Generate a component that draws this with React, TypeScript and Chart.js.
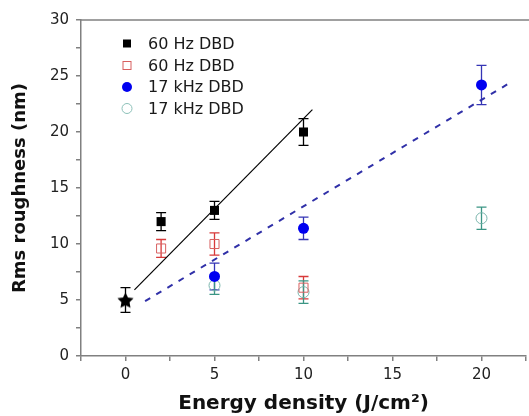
import React, { useEffect, useRef } from 'react';
import { Chart, registerables } from 'chart.js';

Chart.register(...registerables);

// ---- data ----
const hz60FilledX = [2, 5, 10];
const hz60FilledY = [12.0, 13.0, 20.0];
const hz60FilledErr = [0.8, 0.8, 1.2];

const hz60OpenX = [2, 5, 10];
const hz60OpenY = [9.6, 10.0, 6.1];
const hz60OpenErr = [0.8, 1.0, 1.0];

const khz17FilledX = [5, 10, 20];
const khz17FilledY = [7.1, 11.4, 24.2];
const khz17FilledErr = [1.2, 1.0, 1.75];

const khz17OpenX = [5, 10, 20];
const khz17OpenY = [6.3, 5.7, 12.3];
const khz17OpenErr = [0.8, 1.0, 1.0];

const untreatedX = [0];
const untreatedY = [5.0];
const untreatedErr = [1.1];

const fit60X = [0.5, 10.5];
const fit60Y = [5.9, 22.0];
const fit17X = [1.1, 21.5];
const fit17Y = [4.9, 24.3];

const legendLabels = ['60 Hz DBD', '60 Hz DBD', '17 kHz DBD', '17 kHz DBD'];
const xTickLabels = ['0', '5', '10', '15', '20'];
const yTickLabels = ['0', '5', '10', '15', '20', '25', '30'];

const FONT = '"DejaVu Sans", "Liberation Sans", Arial, sans-serif';

function zip(xs: number[], ys: number[]) {
  return xs.map((x, i) => ({ x, y: ys[i] }));
}

function makeStar(size: number, color: string) {
  const c = document.createElement('canvas');
  c.width = size;
  c.height = size;
  const ctx = c.getContext('2d')!;
  const cx = size / 2, cy = size / 2 + 0.9;
  const R = size / 2, r = R * 0.5;
  ctx.beginPath();
  for (let i = 0; i < 10; i++) {
    const ang = -Math.PI / 2 + (i * Math.PI) / 5;
    const rad = i % 2 === 0 ? R : r;
    const px = cx + rad * Math.cos(ang);
    const py = cy + rad * Math.sin(ang);
    if (i === 0) ctx.moveTo(px, py); else ctx.lineTo(px, py);
  }
  ctx.closePath();
  ctx.fillStyle = color;
  ctx.fill();
  return c;
}

const errorBarPlugin = {
  id: 'errorBars',
  beforeDatasetsDraw(chart: any) {
    const ctx = chart.ctx;
    const yScale = chart.scales.y;
    chart.data.datasets.forEach((ds: any, i: number) => {
      if (!ds.errors) return;
      const meta = chart.getDatasetMeta(i);
      meta.data.forEach((pt: any, j: number) => {
        const v = ds.data[j].y;
        const e = ds.errors[j];
        const yTop = yScale.getPixelForValue(v + e);
        const yBot = yScale.getPixelForValue(v - e);
        const x = pt.x;
        ctx.save();
        ctx.strokeStyle = ds.errorColor;
        ctx.lineWidth = 1.3;
        ctx.beginPath();
        ctx.moveTo(x, yTop);
        ctx.lineTo(x, yBot);
        ctx.moveTo(x - 5, yTop);
        ctx.lineTo(x + 5, yTop);
        ctx.moveTo(x - 5, yBot);
        ctx.lineTo(x + 5, yBot);
        ctx.stroke();
        ctx.restore();
      });
    });
  },
};

const framePlugin = {
  id: 'frameAndLegend',
  afterDraw(chart: any) {
    const ctx = chart.ctx;
    const { left, top } = chart.chartArea;
    ctx.save();
    ctx.strokeStyle = '#808080';
    ctx.lineWidth = 1.5;
    ctx.beginPath();
    ctx.moveTo(left, top);
    ctx.lineTo(chart.width, top);
    ctx.stroke();

    // legend
    const mx = 127;
    const tx = 148;
    const rows = [43.5, 65.5, 87, 108.5];
    ctx.font = `16px ${FONT}`;
    ctx.textBaseline = 'middle';
    ctx.textAlign = 'left';
    rows.forEach((yy, i) => {
      ctx.beginPath();
      if (i === 0) {
        ctx.fillStyle = '#000';
        ctx.fillRect(mx - 4, yy - 4, 8, 8);
      } else if (i === 1) {
        ctx.strokeStyle = '#d86060';
        ctx.lineWidth = 1;
        ctx.strokeRect(mx - 4, yy - 4, 8, 8);
      } else if (i === 2) {
        ctx.fillStyle = '#0000f0';
        ctx.arc(mx, yy, 5, 0, Math.PI * 2);
        ctx.fill();
      } else {
        ctx.strokeStyle = '#8cc0b8';
        ctx.lineWidth = 1;
        ctx.arc(mx, yy, 5, 0, Math.PI * 2);
        ctx.stroke();
      }
      ctx.fillStyle = '#1a1a1a';
      ctx.fillText(legendLabels[i], tx, yy + 1);
    });
    ctx.restore();
  },
};

export default function App() {
  const ref = useRef<HTMLCanvasElement | null>(null);

  useEffect(() => {
    document.body.style.margin = '0';
    const canvas = ref.current!;
    const star = makeStar(17, '#000');
    const chart = new Chart(canvas, {
      type: 'scatter',
      data: {
        datasets: [
          {
            label: 'untreated',
            data: zip(untreatedX, untreatedY),
            pointStyle: star as any,
            pointRadius: 8,
            errors: untreatedErr,
            errorColor: '#000',
          } as any,
          {
            label: legendLabels[0],
            data: zip(hz60FilledX, hz60FilledY),
            pointStyle: 'rect',
            pointRadius: 6.4,
            backgroundColor: '#000',
            borderColor: '#000',
            borderWidth: 0,
            errors: hz60FilledErr,
            errorColor: '#000',
          } as any,
          {
            label: legendLabels[2],
            data: zip(khz17FilledX, khz17FilledY),
            pointStyle: 'circle',
            pointRadius: 5.5,
            backgroundColor: '#0000f0',
            borderColor: '#0000f0',
            borderWidth: 0,
            errors: khz17FilledErr,
            errorColor: '#3535b5',
          } as any,
          {
            label: legendLabels[1],
            data: zip(hz60OpenX, hz60OpenY),
            pointStyle: 'rect',
            pointRadius: 6.4,
            backgroundColor: 'rgba(0,0,0,0)',
            borderColor: '#d86060',
            borderWidth: 1,
            errors: hz60OpenErr,
            errorColor: '#d83a3a',
          } as any,
          {
            label: legendLabels[3],
            data: zip(khz17OpenX, khz17OpenY),
            pointStyle: 'circle',
            pointRadius: 5.5,
            backgroundColor: 'rgba(0,0,0,0)',
            borderColor: '#7ab5ac',
            borderWidth: 1,
            errors: khz17OpenErr,
            errorColor: '#3a9584',
          } as any,
          {
            label: 'fit60',
            type: 'line',
            data: zip(fit60X, fit60Y),
            showLine: true,
            borderColor: '#000',
            borderWidth: 1.2,
            pointRadius: 0,
            fill: false,
          } as any,
          {
            label: 'fit17',
            type: 'line',
            data: zip(fit17X, fit17Y),
            showLine: true,
            borderColor: '#3030a8',
            borderWidth: 2,
            borderDash: [6, 7],
            pointRadius: 0,
            fill: false,
          } as any,
        ],
      },
      options: {
        responsive: false,
        animation: false,
        devicePixelRatio: 1,
        layout: { autoPadding: false, padding: { left: 0, top: 20, right: 3, bottom: 0 } },
        plugins: {
          legend: { display: false },
          tooltip: { enabled: false },
        },
        scales: {
          x: {
            type: 'linear',
            min: -2.5,
            max: 22.5,
            afterFit(scale: any) {
              scale.height = 60;
              scale.paddingRight = 0;
              scale.paddingLeft = 0;
            },
            border: { color: '#808080', width: 1.5 },
            grid: { drawOnChartArea: false, drawTicks: true, tickLength: 5, color: '#808080', lineWidth: 1.5 },
            ticks: {
              stepSize: 2.5,
              autoSkip: false,
              maxRotation: 0,
              padding: 5,
              color: '#222',
              font: { family: FONT, size: 15 },
              callback: (v: any) => {
                const idx = xTickLabels.indexOf(String(v));
                return idx >= 0 ? xTickLabels[idx] : '';
              },
            },
            title: {
              display: true,
              text: 'Energy density (J/cm²)',
              color: '#111',
              font: { family: FONT, size: 20, weight: 'bold' },
              padding: { top: 0, bottom: 0 },
            },
          },
          y: {
            type: 'linear',
            min: 0,
            max: 30,
            afterFit(scale: any) {
              scale.width = 81;
              scale.paddingTop = 0;
              scale.paddingBottom = 0;
            },
            border: { color: '#808080', width: 1.5 },
            grid: { drawOnChartArea: false, drawTicks: true, tickLength: 5, color: '#808080', lineWidth: 1.5 },
            ticks: {
              stepSize: 2.5,
              autoSkip: false,
              padding: 7,
              color: '#222',
              font: { family: FONT, size: 15 },
              callback: (v: any) => {
                const idx = yTickLabels.indexOf(String(v));
                return idx >= 0 ? yTickLabels[idx] : '';
              },
            },
            title: {
              display: true,
              text: 'Rms roughness (nm)',
              color: '#111',
              font: { family: FONT, size: 18, weight: 'bold' },
              padding: { top: 10, bottom: 0 },
            },
          },
        },
      } as any,
      plugins: [errorBarPlugin, framePlugin],
    });
    return () => chart.destroy();
  }, []);

  return (
    <div style={{ position: 'fixed', left: 0, top: 0, width: 529, height: 416, background: '#fff' }}>
      <canvas ref={ref} width={529} height={416} />
    </div>
  );
}
